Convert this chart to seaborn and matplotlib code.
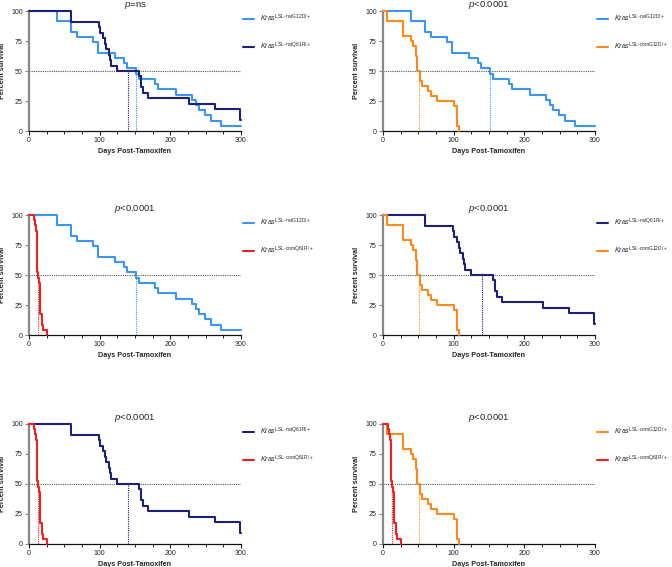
import numpy as np
import pandas as pd
import matplotlib
matplotlib.use("Agg")
import matplotlib.pyplot as plt
from matplotlib.ticker import MultipleLocator
import seaborn as sns

# Kaplan-Meier steps (day of drop, % surviving after drop)
nat_g12d_days = [40, 59, 68, 90, 97, 121, 134, 138, 151, 156, 178, 182, 208, 230, 237, 240, 249, 258, 272]
nat_g12d_surv = [91.3, 82.6, 78.3, 73.9, 65.2, 60.9, 56.5, 52.2, 47.8, 43.5, 39.1, 34.8, 30.4, 26.1, 21.7, 17.4, 13.0, 8.7, 4.3]

nat_q61r_days = [59, 99, 101, 105, 107, 109, 113, 115, 116, 124, 156, 158, 159, 162, 168, 226, 263, 298]
nat_q61r_surv = [90.9, 86.4, 81.8, 77.3, 72.7, 68.2, 63.6, 59.1, 54.5, 50.0, 45.5, 40.9, 36.4, 31.8, 27.3, 22.7, 18.2, 9.1]

com_g12d_days = [6, 28, 39, 42, 46, 48, 53, 55, 64, 68, 76, 101, 105, 108]
com_g12d_surv = [91.7, 79.2, 75.0, 70.8, 62.5, 50.0, 41.7, 37.5, 33.3, 29.2, 25.0, 20.8, 4.2, 0.0]

com_q61r_days = [7, 8.5, 9.5, 11, 13, 14, 15, 16, 18, 20, 25]
com_q61r_surv = [95.7, 91.3, 87.0, 52.2, 47.8, 43.5, 39.1, 17.4, 8.7, 4.3, 0.0]

follow_up = 300

group_names = ["natG12D", "natQ61R", "comG12D", "comQ61R"]
group_colors = ["#3a96f0", "#1c1f7c", "#fb8a1e", "#ee2020"]

panel_titles = ["$p$=ns", "$p$<0.0001", "$p$<0.0001", "$p$<0.0001", "$p$<0.0001", "$p$<0.0001"]
panel_pairs = [("natG12D", "natQ61R"), ("natG12D", "comG12D"), ("natG12D", "comQ61R"),
               ("natQ61R", "comG12D"), ("natQ61R", "comQ61R"), ("comG12D", "comQ61R")]

curves = {
    "natG12D": (nat_g12d_days, nat_g12d_surv),
    "natQ61R": (nat_q61r_days, nat_q61r_surv),
    "comG12D": (com_g12d_days, com_g12d_surv),
    "comQ61R": (com_q61r_days, com_q61r_surv),
}

sns.set_theme(style="ticks")
plt.rcParams['font.family'] = ['Liberation Sans', 'DejaVu Sans']
plt.rcParams['mathtext.fontset'] = 'custom'
plt.rcParams['mathtext.rm'] = 'Liberation Sans'
plt.rcParams['mathtext.it'] = 'Liberation Sans:italic'
plt.rcParams['mathtext.bf'] = 'Liberation Sans:bold'


def label_for(name):
    return r"$\mathit{Kras}^{\mathrm{LSL\text{-}" + name + r"/+}}$"


def curve_frame(name):
    days, surv = curves[name]
    t = [0] + list(days)
    s = [100] + list(surv)
    if s[-1] > 0:
        t.append(follow_up)
        s.append(s[-1])
    return pd.DataFrame({"day": t, "surv": s, "group": label_for(name)})


def median_survival(name):
    days, surv = curves[name]
    for i, v in enumerate(surv):
        if v < 50:
            return days[i]
        if v == 50:
            nxt = days[i + 1] if i + 1 < len(days) else follow_up
            return (days[i] + nxt) / 2
    return None


fig = plt.figure(figsize=(6.72, 5.67), dpi=100)
col_x = [29 / 672, 383 / 672]
row_bottom = [1 - 131 / 567, 1 - 335 / 567, 1 - 544 / 567]
w = 212 / 672
h = 120 / 567

for k, (title, pair) in enumerate(zip(panel_titles, panel_pairs)):
    ax = fig.add_axes([col_x[k % 2], row_bottom[k // 2], w, h])
    df = pd.concat([curve_frame(n) for n in pair], ignore_index=True)
    pal = {label_for(n): group_colors[group_names.index(n)] for n in pair}

    ax.plot([0, follow_up], [50, 50], ls=(0, (1, 1)), color="#555555", lw=0.8, zorder=1)
    for n in pair:
        m = median_survival(n)
        ax.plot([m, m], [0, 50], ls=(0, (1, 1)), lw=0.8,
                color=group_colors[group_names.index(n)], zorder=1)

    sns.lineplot(data=df, x="day", y="surv", hue="group", hue_order=[label_for(n) for n in pair],
                 palette=pal, drawstyle="steps-post", estimator=None, sort=False,
                 lw=1.5, ax=ax, clip_on=False, zorder=3)

    ax.set_xlim(0, 300)
    ax.set_ylim(0, 100)
    ax.xaxis.set_major_locator(MultipleLocator(100))
    ax.xaxis.set_minor_locator(MultipleLocator(25))
    ax.yaxis.set_major_locator(MultipleLocator(25))
    ax.tick_params(axis="both", which="major", labelsize=5, length=3, width=0.8,
                   pad=1.5, colors="#222222")
    ax.tick_params(axis="x", which="minor", length=2, width=0.7, color="#222222")
    ax.tick_params(axis="y", which="major", color="#888888")
    for side in ["top", "right"]:
        ax.spines[side].set_visible(False)
    ax.spines["left"].set_color("#888888")
    ax.spines["left"].set_linewidth(1.6)
    ax.spines["bottom"].set_color("#111111")
    ax.spines["bottom"].set_linewidth(0.9)

    ax.set_title(title, fontsize=6.8, pad=0.5)
    ax.set_xlabel("Days Post-Tamoxifen", fontsize=5.2, fontweight="bold", labelpad=2.5)
    ax.set_ylabel("Percent survival", fontsize=5.2, fontweight="bold", labelpad=4)

    sns.move_legend(ax, "upper left", bbox_to_anchor=(0.99, 1.02), frameon=False, title=None,
                    fontsize=5.0, handlelength=1.6, handletextpad=0.9, labelspacing=2.4,
                    borderaxespad=0.2)

fig.savefig("out.png", dpi=100)
